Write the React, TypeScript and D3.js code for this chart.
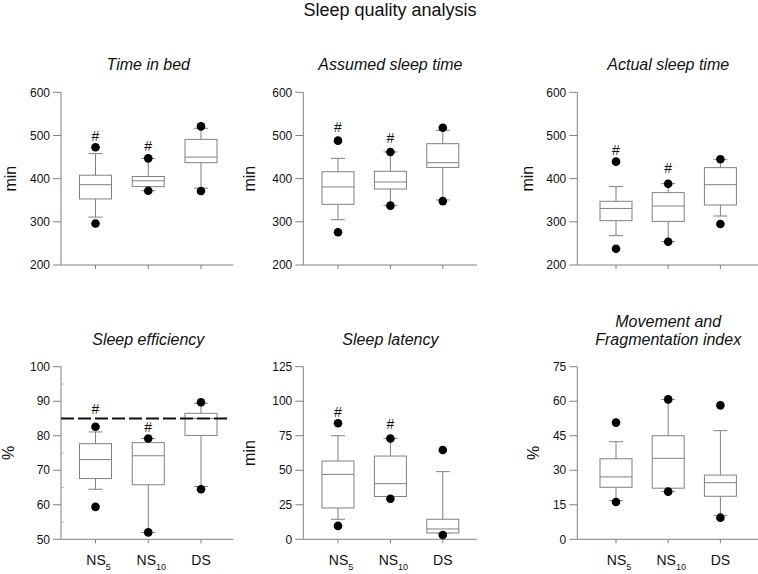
import React from "react";
import * as d3 from "d3";

// ---------- data ----------
const categories = ["NS5", "NS10", "DS"];
const categoryMain = ["NS", "NS", "DS"];
const categorySub = ["5", "10", ""];

// box stats per category: [lower whisker, Q1, median, Q3, upper whisker]
const timeInBedBoxes = [[311, 353, 386, 408, 458], [372, 381.5, 395, 405, 447], [378, 437, 450, 491, 516.6]];
const timeInBedDots = [[296, 472.6], [372, 447], [371.4, 521]];
const timeInBedHash = [499, 476.5, null];

const assumedBoxes = [[305, 340.5, 380.7, 416, 447], [338, 376, 392.3, 417, 461.8], [350.6, 426, 437, 481, 512]];
const assumedDots = [[275.7, 488], [337.5, 461.8], [348, 518]];
const assumedHash = [519, 495, null];

const actualBoxes = [[268, 302.7, 331, 347.5, 382], [254, 301, 336.7, 367.6, 388.4], [313.5, 339, 386, 425.5, 444.8]];
const actualDots = [[237.8, 439.4], [254, 388], [295, 444.8]];
const actualHash = [465, 424, null];

const efficiencyBoxes = [[64.5, 67.6, 73.1, 77.7, 81.1], [52, 65.8, 74.2, 78, 79.2], [65.3, 80.1, 85, 86.5, 89.4]];
const efficiencyDots = [[59.4, 82.6], [52, 79.2], [64.5, 89.7]];
const efficiencyHash = [87.8, 82.6, null];
const efficiencyReference = 85;

const latencyBoxes = [[14.5, 22.7, 47, 56.7, 75], [31, 31, 40.3, 60.3, 72.9], [4.6, 4.6, 7.5, 14.5, 49]];
const latencyDots = [[9.7, 84], [29.4, 73], [3.1, 64.7]];
const latencyHash = [92.4, 83.3, null];

const fragBoxes = [[16.8, 22.6, 27.1, 35, 42.4], [20.8, 22.2, 35.2, 45, 60.8], [10.3, 18.7, 24.6, 27.9, 47.2]];
const fragDots = [[16.2, 50.7], [20.7, 60.8], [9.4, 58.2]];
const fragHash = [null, null, null];

const minTicks = [200, 300, 400, 500, 600];
const efficiencyTicks = [50, 60, 70, 80, 90, 100];
const efficiencyMinor = [55, 65, 75, 85, 95];
const latencyTicks = [0, 25, 50, 75, 100, 125];
const fragTicks = [0, 15, 30, 45, 60, 75];

const FONT = "'Liberation Sans', Arial, Helvetica, sans-serif";
const GRAY = "#808080";

type PanelProps = {
  axisX: number;
  right: number;
  catStart: number;
  catEnd: number;
  yTop: number;
  yBottom: number;
  domain: [number, number];
  ticks: number[];
  minor?: number[];
  boxes: number[][];
  dots: number[][];
  hash: (number | null)[];
  title: string[];
  titleBaseline: number;
  yLabel: string;
  yLabelX: number;
  showX: boolean;
  refLine?: number;
};

function Panel(p: PanelProps) {
  const x = d3.scalePoint<string>().domain(categories).range([p.catStart, p.catEnd]);
  const y = d3.scaleLinear().domain(p.domain).range([p.yBottom, p.yTop]);
  const bw = 32;
  const cap = 7;
  const titleX = (p.axisX + p.right) / 2 + (p.axisX > 500 ? 0 : 0);
  const centerX = (x(categories[0])! + x(categories[2])!) / 2;
  return (
    <g>
      {p.title.map((t, i) => (
        <text
          key={i}
          x={centerX}
          y={p.titleBaseline - (p.title.length - 1 - i) * 18}
          textAnchor="middle"
          fontStyle="italic"
          fontSize={16}
          fill="#111"
        >
          {t}
        </text>
      ))}
      <text
        transform={`translate(${p.yLabelX},${(p.yTop + p.yBottom) / 2}) rotate(-90)`}
        textAnchor="middle"
        dy="0.35em"
        fontSize={16}
        fill="#111"
      >
        {p.yLabel}
      </text>
      {/* y axis */}
      <line x1={p.axisX} x2={p.axisX} y1={p.yTop} y2={p.yBottom} stroke={GRAY} />
      {p.ticks.map((t) => (
        <g key={t}>
          <line x1={p.axisX - 8} x2={p.axisX} y1={y(t)} y2={y(t)} stroke={GRAY} />
          <text x={p.axisX - 11} y={y(t)} dy="0.35em" textAnchor="end" fontSize={12} fill="#111">
            {t}
          </text>
        </g>
      ))}
      {(p.minor || []).map((t) => (
        <line key={"m" + t} x1={p.axisX} x2={p.axisX + 3} y1={y(t)} y2={y(t)} stroke="#bbb" />
      ))}
      {/* x axis */}
      <line x1={p.axisX} x2={p.right} y1={p.yBottom} y2={p.yBottom} stroke={GRAY} />
      {categories.map((c, i) => (
        <g key={c}>
          <line x1={x(c)} x2={x(c)} y1={p.yBottom} y2={p.yBottom + 4} stroke={GRAY} />
          {p.showX && (
            <text x={x(c)! + (categorySub[i] ? 3 : 0)} y={p.yBottom + 26} textAnchor="middle" fontSize={14} fill="#111">
              {categoryMain[i]}
              {categorySub[i] && (
                <tspan fontSize={9} dy={5}>
                  {categorySub[i]}
                </tspan>
              )}
            </text>
          )}
        </g>
      ))}
      {/* boxes */}
      {categories.map((c, i) => {
        const [lw, q1, med, q3, uw] = p.boxes[i];
        const cx = x(c)!;
        return (
          <g key={"b" + c} stroke={GRAY} fill="none" strokeWidth={1}>
            <line x1={cx} x2={cx} y1={y(uw)} y2={y(q3)} />
            <line x1={cx} x2={cx} y1={y(q1)} y2={y(lw)} />
            <line x1={cx - cap} x2={cx + cap} y1={y(uw)} y2={y(uw)} />
            <line x1={cx - cap} x2={cx + cap} y1={y(lw)} y2={y(lw)} />
            <rect x={cx - bw / 2} y={y(q3)} width={bw} height={y(q1) - y(q3)} fill="#fff" />
            <line x1={cx - bw / 2} x2={cx + bw / 2} y1={y(med)} y2={y(med)} />
          </g>
        );
      })}
      {p.refLine !== undefined && (
        <line
          x1={p.axisX}
          x2={x(categories[2])! + 27}
          y1={y(p.refLine)}
          y2={y(p.refLine)}
          stroke="#111"
          strokeWidth={2}
          strokeDasharray="13,4"
        />
      )}
      {categories.map((c, i) =>
        p.dots[i].map((v, j) => <circle key={c + j} cx={x(c)} cy={y(v)} r={4.3} fill="#000" />)
      )}
      {categories.map((c, i) =>
        p.hash[i] === null ? null : (
          <text key={"h" + c} x={x(c)} y={y(p.hash[i] as number)} dy="0.35em" textAnchor="middle" fontSize={14} fill="#111">
            #
          </text>
        )
      )}
    </g>
  );
}

export default function App() {
  const topY: [number, number] = [92.3, 265];
  const botY: [number, number] = [366.7, 539.3];
  const cols = [
    { axisX: 61, catStart: 95.5, catEnd: 201, right: 233.5, labelX: 10 },
    { axisX: 303.3, catStart: 338, catEnd: 442.8, right: 477, labelX: 249 },
    { axisX: 577.3, catStart: 616, catEnd: 720.4, right: 758, labelX: 527 },
  ];
  return (
    <svg
      width={758}
      height={574}
      style={{ position: "absolute", left: 0, top: 0, background: "#fff" }}
      fontFamily={FONT}
    >
      <rect width={758} height={574} fill="#fff" />
      <text x={390} y={16} textAnchor="middle" fontSize={18} fill="#111">
        Sleep quality analysis
      </text>
      <Panel
        axisX={cols[0].axisX} right={cols[0].right} catStart={cols[0].catStart} catEnd={cols[0].catEnd}
        yTop={topY[0]} yBottom={topY[1]} domain={[200, 600]} ticks={minTicks}
        boxes={timeInBedBoxes} dots={timeInBedDots} hash={timeInBedHash}
        title={["Time in bed"]} titleBaseline={70} yLabel="min" yLabelX={cols[0].labelX} showX={false}
      />
      <Panel
        axisX={cols[1].axisX} right={cols[1].right} catStart={cols[1].catStart} catEnd={cols[1].catEnd}
        yTop={topY[0]} yBottom={topY[1]} domain={[200, 600]} ticks={minTicks}
        boxes={assumedBoxes} dots={assumedDots} hash={assumedHash}
        title={["Assumed sleep time"]} titleBaseline={70} yLabel="min" yLabelX={cols[1].labelX} showX={false}
      />
      <Panel
        axisX={cols[2].axisX} right={cols[2].right} catStart={cols[2].catStart} catEnd={cols[2].catEnd}
        yTop={topY[0]} yBottom={topY[1]} domain={[200, 600]} ticks={minTicks}
        boxes={actualBoxes} dots={actualDots} hash={actualHash}
        title={["Actual sleep time"]} titleBaseline={70} yLabel="min" yLabelX={cols[2].labelX} showX={false}
      />
      <Panel
        axisX={cols[0].axisX} right={cols[0].right} catStart={cols[0].catStart} catEnd={cols[0].catEnd}
        yTop={botY[0]} yBottom={botY[1]} domain={[50, 100]} ticks={efficiencyTicks} minor={efficiencyMinor}
        boxes={efficiencyBoxes} dots={efficiencyDots} hash={efficiencyHash} refLine={efficiencyReference}
        title={["Sleep efficiency"]} titleBaseline={345} yLabel="%" yLabelX={8} showX={true}
      />
      <Panel
        axisX={cols[1].axisX} right={cols[1].right} catStart={cols[1].catStart} catEnd={cols[1].catEnd}
        yTop={botY[0]} yBottom={botY[1]} domain={[0, 125]} ticks={latencyTicks}
        boxes={latencyBoxes} dots={latencyDots} hash={latencyHash}
        title={["Sleep latency"]} titleBaseline={345} yLabel="min" yLabelX={cols[1].labelX} showX={true}
      />
      <Panel
        axisX={cols[2].axisX} right={cols[2].right} catStart={cols[2].catStart} catEnd={cols[2].catEnd}
        yTop={botY[0]} yBottom={botY[1]} domain={[0, 75]} ticks={fragTicks}
        boxes={fragBoxes} dots={fragDots} hash={fragHash}
        title={["Movement and", "Fragmentation index"]} titleBaseline={345} yLabel="%" yLabelX={533} showX={true}
      />
    </svg>
  );
}
